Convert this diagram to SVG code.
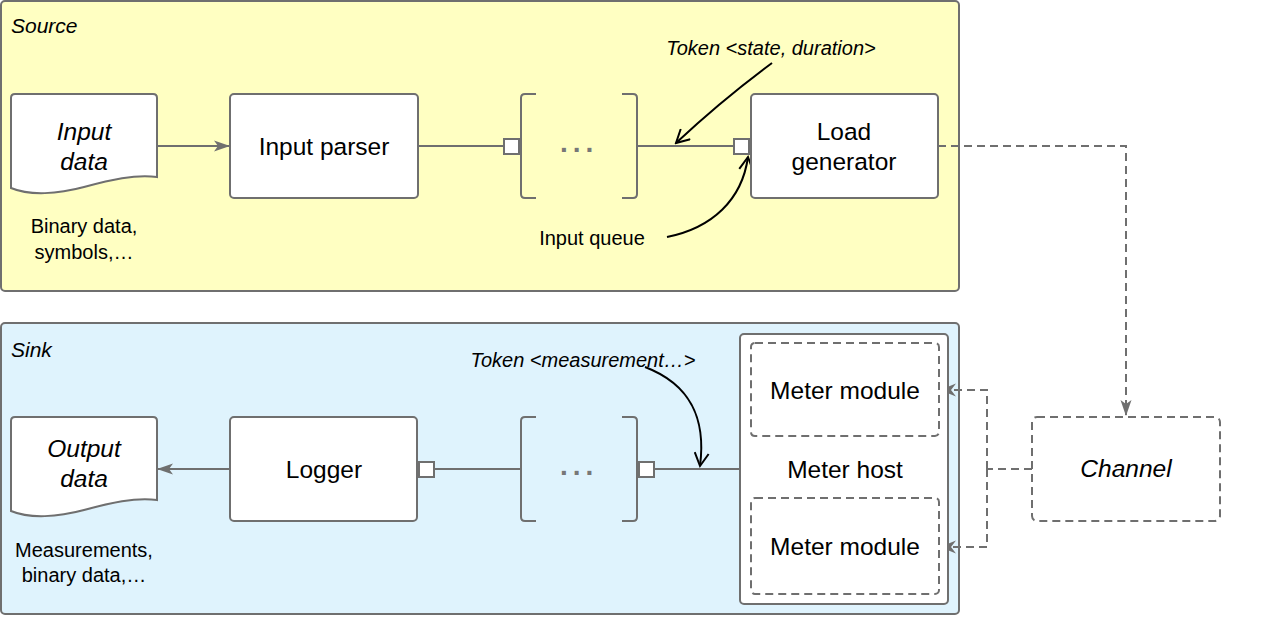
<svg xmlns="http://www.w3.org/2000/svg" width="1261" height="636" viewBox="0 0 1261 636">
<defs>
<marker id="ga" markerUnits="userSpaceOnUse" markerWidth="16" markerHeight="12" viewBox="0 0 16 12" refX="15" refY="6" orient="auto"><path d="M0,0.5 L16,6 L0,11.5 L4,6 Z" fill="#6f6f6f"/></marker>
<marker id="gs" markerUnits="userSpaceOnUse" markerWidth="16" markerHeight="14" viewBox="0 0 16 14" refX="15" refY="7" orient="auto"><path d="M0,0.5 L16,7 L0,13.5 L5,7 Z" fill="#6f6f6f"/></marker>
<marker id="ba" markerUnits="userSpaceOnUse" markerWidth="16" markerHeight="16" viewBox="0 0 16 16" refX="14" refY="8" orient="auto"><path d="M1,1 L14,8 L1,15" fill="none" stroke="#000" stroke-width="2"/></marker>
<path id="doc" d="M15,94 H153 Q157,94 157,98 V177 C135,174 110,180 84,187 C58,194 30,196 11,188 V98 Q11,94 15,94 Z"/>
</defs>
<style>
.panel{stroke:#6f6f6f;stroke-width:2}
.box{fill:#fff;stroke:#6f6f6f;stroke-width:2}
.dbox{fill:#fff;stroke:#6f6f6f;stroke-width:2;stroke-dasharray:8 5}
.dmod{fill:none;stroke:#6f6f6f;stroke-width:2;stroke-dasharray:8 5}
.line{fill:none;stroke:#6f6f6f;stroke-width:2}
.dash{fill:none;stroke:#6f6f6f;stroke-width:2;stroke-dasharray:8 5}
.ann{fill:none;stroke:#000;stroke-width:2}
.port{fill:#fff;stroke:#6f6f6f;stroke-width:2}
text{font-family:"Liberation Sans",Arial,sans-serif;fill:#000}
.main{font-size:24.5px;text-anchor:middle}
.small{font-size:20px;text-anchor:middle}
.it{font-style:italic}
.plabel{font-size:21px;font-style:italic}
.dots{font-size:28px;font-weight:bold;fill:#777;letter-spacing:5px}
</style>

<g id="source-panel">
<rect class="panel" x="1" y="1" width="958" height="290" rx="4" fill="#ffffc2"/>
<text class="plabel" x="11" y="33">Source</text>
</g>
<g id="sink-panel">
<rect class="panel" x="1" y="323" width="958" height="291" rx="4" fill="#dff3fd"/>
<text class="plabel" x="11" y="357">Sink</text>
</g>

<g id="connectors">
<path class="line" d="M157,146 H229" marker-end="url(#ga)"/>
<path class="line" d="M418,146 H504"/>
<path class="line" d="M637,146 H734"/>
<path class="dash" d="M938,146 H1126 V415" marker-end="url(#ga)"/>
<path class="line" d="M230,469 H158" marker-end="url(#ga)"/>
<path class="line" d="M434,469 H521"/>
<path class="line" d="M655,469 H740"/>
<path class="dash" d="M1032,469 H987"/>
<path class="dash" d="M987,469 V390 H941" marker-end="url(#gs)"/>
<path class="dash" d="M987,469 V547 H941" marker-end="url(#gs)"/>
<path class="ann" d="M772,63 Q722,100 676,143" marker-end="url(#ba)"/>
<path class="ann" d="M667,237 C712,228 742,200 748,157" marker-end="url(#ba)"/>
<path class="ann" d="M645,367 C692,385 706,420 700,466" marker-end="url(#ba)"/>
</g>

<g id="input-data">
<use href="#doc" fill="#fff" stroke="#6f6f6f" stroke-width="2"/>
<text class="main it" x="84" y="140">Input</text>
<text class="main it" x="84" y="170">data</text>
<text class="small" x="84" y="233">Binary data,</text>
<text class="small" x="84" y="259">symbols,…</text>
</g>

<g id="input-parser">
<rect class="box" x="230" y="94" width="188" height="104" rx="4"/>
<text class="main" x="324" y="155">Input parser</text>
</g>

<g id="input-queue">
<path class="line" d="M536,94 H525 Q521,94 521,98 V194 Q521,198 525,198 H536"/>
<path class="line" d="M622,94 H633 Q637,94 637,98 V194 Q637,198 633,198 H622"/>
<text class="dots" x="560" y="152">...</text>
<rect class="port" x="504" y="139" width="15" height="15"/>
<rect class="port" x="734" y="139" width="15" height="15"/>
<text class="small" x="592" y="245">Input queue</text>
</g>

<g id="load-generator">
<rect class="box" x="751" y="94" width="187" height="104" rx="4"/>
<text class="main" x="844" y="140">Load</text>
<text class="main" x="844" y="170">generator</text>
</g>

<g id="token-state">
<text class="small it" x="771" y="55">Token &lt;state, duration&gt;</text>
</g>

<g id="channel">
<rect class="dbox" x="1032" y="417" width="188" height="104" rx="5"/>
<text class="main it" x="1126" y="477">Channel</text>
</g>

<g id="output-data">
<use href="#doc" transform="translate(0,323)" fill="#fff" stroke="#6f6f6f" stroke-width="2"/>
<text class="main it" x="84" y="457">Output</text>
<text class="main it" x="84" y="487">data</text>
<text class="small" x="84" y="557">Measurements,</text>
<text class="small" x="84" y="582">binary data,…</text>
</g>

<g id="logger">
<rect class="box" x="230" y="417" width="187" height="104" rx="4"/>
<text class="main" x="324" y="478">Logger</text>
<rect class="port" x="419" y="462" width="15" height="15"/>
</g>

<g id="output-queue">
<path class="line" d="M536,417 H525 Q521,417 521,421 V517 Q521,521 525,521 H536"/>
<path class="line" d="M622,417 H633 Q637,417 637,421 V517 Q637,521 633,521 H622"/>
<text class="dots" x="560" y="475">...</text>
<rect class="port" x="639" y="462" width="15" height="15"/>
</g>

<g id="token-measurement">
<text class="small it" x="583" y="367">Token &lt;measurement…&gt;</text>
</g>

<g id="meter-host">
<rect class="box" x="740" y="334" width="208" height="270" rx="4"/>
<text class="main" x="845" y="478">Meter host</text>
</g>
<g id="meter-module-1">
<rect class="dmod" x="751" y="343" width="188" height="93" rx="4"/>
<text class="main" x="845" y="399">Meter module</text>
</g>
<g id="meter-module-2">
<rect class="dmod" x="751" y="498" width="188" height="96" rx="4"/>
<text class="main" x="845" y="555">Meter module</text>
</g>
</svg>
